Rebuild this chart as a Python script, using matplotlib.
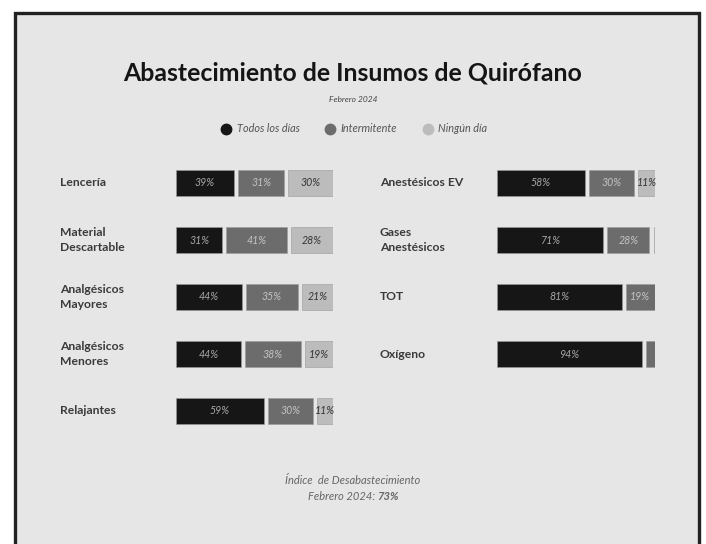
import matplotlib
matplotlib.use("Agg")
import matplotlib.pyplot as plt
from matplotlib.patches import Rectangle
from matplotlib.lines import Line2D
import matplotlib.transforms as mtransforms

# ---- data ----
left_categories = ["Lencería", "Material\nDescartable", "Analgésicos\nMayores",
                   "Analgésicos\nMenores", "Relajantes"]
left_todos = [39, 31, 44, 44, 59]
left_inter = [31, 41, 35, 38, 30]
left_ningun = [30, 28, 21, 19, 11]

right_categories = ["Anestésicos EV", "Gases\nAnestésicos", "TOT", "Oxígeno"]
right_todos = [58, 71, 81, 94]
right_inter = [30, 28, 19, 6]
right_ningun = [11, 1, 0, 0]

series_names = ["Todos los días", "Intermitente", "Ningún día"]
title = "Abastecimiento de Insumos de Quirófano"
subtitle = "Febrero 2024"
footer_line1 = "Índice  de Desabastecimiento"
footer_line2 = "Febrero 2024: "
footer_value = "73%"

# ---- style ----
W, H = 706, 544
BG = "#e6e6e6"
colors = ["#161616", "#6c6c6c", "#bcbcbc"]
text_on = ["#a8a8a8", "#c4c4c4", "#333333"]
label_color = "#3a3a3a"
FONT = "Lato"

fig = plt.figure(figsize=(W / 100, H / 100), dpi=100, facecolor="white")

# framed background
fig.patches.append(Rectangle((14.5 / W, -0.1), (699 - 14.5) / W, 1.1 - 13.0 / H,
                             transform=fig.transFigure, facecolor=BG,
                             edgecolor="#222222", linewidth=2.4, zorder=-5))

def px_axes(x0, x1, y0, y1):
    ax = fig.add_axes([x0 / W, 1 - y1 / H, (x1 - x0) / W, (y1 - y0) / H])
    ax.set_zorder(2)
    return ax

ROW_H = 57.0
TOP = 183 - ROW_H / 2
GAP = 100 * 4 / 157.0


def draw_column(ax, cats, a, b, c, label_x):
    ax.set_xlim(0, 100)
    ax.set_ylim(4.5, -0.5)
    ax.axis("off")
    tr = mtransforms.blended_transform_factory(fig.transFigure, ax.transData)
    for i, cat in enumerate(cats):
        vals = [a[i], b[i], c[i]]
        nz = [k for k in range(3) if vals[k] > 0]
        total = sum(vals[k] for k in nz)
        avail = 100 - (len(nz) - 1) * GAP
        left = 0.0
        for k in nz:
            w = vals[k] / total * avail
            ax.barh(i, w, left=left, height=0.45, color=colors[k],
                    edgecolor="#9a9a9a", linewidth=0.4)
            if vals[k] >= 10:
                ax.text(left + w / 2, i, f"{vals[k]}%", ha="center", va="center",
                        fontsize=7.6, style="italic", color=text_on[k],
                        family=FONT)
            left += w + GAP
        ax.text(label_x / W, i, cat, transform=tr, ha="left", va="center",
                fontsize=8.7, fontweight="bold", color=label_color, family=FONT,
                linespacing=1.35, clip_on=False)


axL = px_axes(176, 333, TOP, TOP + 5 * ROW_H)
draw_column(axL, left_categories, left_todos, left_inter, left_ningun, 60)
axR = px_axes(497, 655, TOP, TOP + 5 * ROW_H)
draw_column(axR, right_categories, right_todos, right_inter, right_ningun, 380)

# title / subtitle
fig.text(0.5, 1 - 73 / H, title, ha="center", va="center", fontsize=17.9,
         fontweight="bold", color="#151515", family=FONT)
fig.text(0.5, 1 - 100 / H, subtitle, ha="center", va="center", fontsize=6,
         style="italic", color="#444444", family=FONT)

# legend
handles = [Line2D([], [], marker="o", linestyle="none", markersize=7.5,
                  markerfacecolor=col, markeredgecolor=col) for col in colors]
fig.legend(handles, series_names, loc="center", bbox_to_anchor=(0.502, 1 - 129 / H),
           ncol=3, frameon=False, handlelength=0.8, handletextpad=0.6,
           columnspacing=2.4, prop={"family": FONT, "style": "italic", "size": 7.8},
           labelcolor="#555555")

# footer
fig.text(0.5, 1 - 481 / H, footer_line1, ha="center", va="center", fontsize=8,
         style="italic", color="#666666", family=FONT)
t = fig.text(0.5, 1 - 497 / H, footer_line2 + footer_value, ha="center", va="center",
             fontsize=8, style="italic", color="#666666", family=FONT, alpha=0)
fig.canvas.draw()
bb = t.get_window_extent()
t1 = fig.text(bb.x0 / W, 1 - 497 / H, footer_line2, ha="left", va="center",
              fontsize=8, style="italic", color="#666666", family=FONT)
fig.canvas.draw()
bb1 = t1.get_window_extent()
fig.text(bb1.x1 / W, 1 - 497 / H, footer_value, ha="left", va="center",
         fontsize=8, style="italic", fontweight="bold", color="#666666", family=FONT)

fig.savefig("out.png", dpi=100, facecolor="white")
